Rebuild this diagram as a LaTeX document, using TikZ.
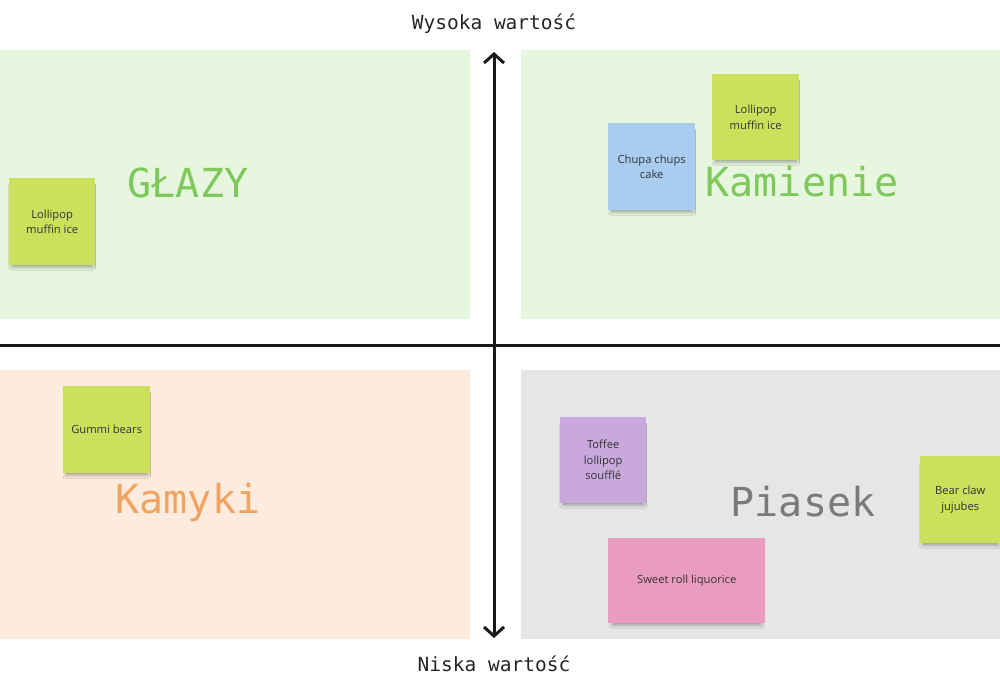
\documentclass[tikz,border=0pt]{standalone}
\usepackage{fontspec}
\setmainfont{Open Sans}
\newfontfamily\monofont{DejaVu Sans Mono}
\usetikzlibrary{arrows.meta,shadows.blur}
\definecolor{qgreen}{HTML}{E7F6DE}
\definecolor{qpeach}{HTML}{FDEBDD}
\definecolor{qgray}{HTML}{E6E6E6}
\definecolor{lgreen}{HTML}{7FC85C}
\definecolor{lorange}{HTML}{F0A464}
\definecolor{lgray}{HTML}{7A7A7A}
\definecolor{sgreen}{HTML}{CCE05C}
\definecolor{sblue}{HTML}{A9CDF1}
\definecolor{spurple}{HTML}{C9A9DD}
\definecolor{spink}{HTML}{EA9CC0}
\definecolor{stext}{HTML}{333333}
\tikzset{
  quad/.style={draw=none, anchor=north west, inner sep=0pt},
  qlabel/.style={font=\monofont\fontsize{40}{44}\selectfont},
  axislabel/.style={font=\monofont\fontsize{19.5}{22}\selectfont, text=black!85},
  sticky/.style={anchor=north west, inner sep=2pt, align=center, text=stext,
    font=\fontsize{11.2}{15.5}\selectfont,
    blur shadow={shadow xshift=0pt, shadow yshift=-5pt, shadow scale=0.95, shadow opacity=28, shadow blur steps=8, shadow blur radius=2.5pt}},
  axis/.style={line width=3pt, black!90},
}
\begin{document}
\begin{tikzpicture}[x=1pt,y=-1pt]
\useasboundingbox[fill=white] (0,0) rectangle (1000,693);
% quadrants
\node[quad, fill=qgreen, minimum width=470pt, minimum height=269pt] (tl) at (0,50) {};
\node[quad, fill=qgreen, minimum width=479pt, minimum height=269pt] (tr) at (521,50) {};
\node[quad, fill=qpeach, minimum width=470pt, minimum height=269pt] (bl) at (0,370) {};
\node[quad, fill=qgray, minimum width=479pt, minimum height=269pt] (br) at (521,370) {};
% axes
\coordinate (hl) at (0,345);
\coordinate (hr) at (1000,345);
\coordinate (vt) at (494,52);
\coordinate (vb) at (494,638);
\draw[axis] (hl) -- (hr);
\draw[axis, {Straight Barb[length=9pt,width=20pt]}-{Straight Barb[length=9pt,width=20pt]}] (vt) -- (vb);
\node[axislabel] (hi) at (494,24) {Wysoka wartość};
\node[axislabel] (lo) at (494,664) {Niska wartość};
% quadrant labels
\node[qlabel, text=lgreen] (glazy) at (188,183) {GŁAZY};
\node[qlabel, text=lgreen] (kam) at (802,182) {Kamienie};
\node[qlabel, text=lorange] (kamyki) at (188,502) {Kamyki};
\node[qlabel, text=lgray] (piasek) at (803,502) {Piasek};
% sticky notes
\node[sticky, fill=sgreen, minimum width=86pt, minimum height=87pt] (s1) at (9,178) {Lollipop\\muffin ice};
\node[sticky, fill=sblue, minimum width=87pt, minimum height=87pt] (s2) at (608,123) {Chupa chups\\cake};
\node[sticky, fill=sgreen, minimum width=87pt, minimum height=86pt] (s3) at (712,74) {Lollipop\\muffin ice};
\node[sticky, fill=sgreen, minimum width=87pt, minimum height=87pt] (s4) at (63,386) {Gummi bears};
\node[sticky, fill=spurple, minimum width=86pt, minimum height=86pt] (s5) at (560,417) {Toffee\\lollipop\\soufflé};
\node[sticky, fill=spink, minimum width=157pt, minimum height=85pt] (s6) at (608,538) {Sweet roll liquorice};
\node[sticky, fill=sgreen, minimum width=80pt, minimum height=87pt] (s7) at (920,456) {Bear claw\\jujubes};
\end{tikzpicture}
\end{document}
